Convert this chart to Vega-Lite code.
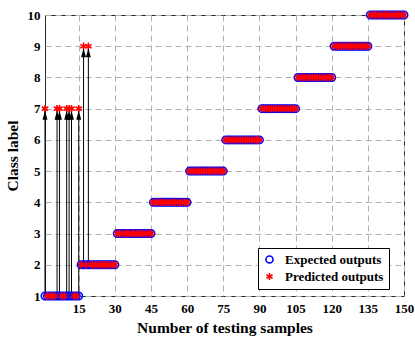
{
  "$schema": "https://vega.github.io/schema/vega-lite/v6.json",
  "width": 359,
  "height": 281,
  "autosize": "none",
  "padding": {"left": 45, "top": 15, "right": 11, "bottom": 45},
  "background": "white",
  "config": {
    "view": {"stroke": "#262626", "strokeWidth": 1},
    "axis": {
      "labelFont": "Liberation Serif", "labelFontWeight": "bold", "labelFontSize": 13, "labelColor": "#000",
      "titleFont": "Liberation Serif", "titleFontWeight": "bold", "titleFontSize": 15.5, "titleColor": "#000",
      "domain": false, "ticks": false, "labelOverlap": false, "labelFlush": false,
      "grid": true, "gridColor": "#b0b0b0", "gridDash": [6, 4], "gridWidth": 1
    },
    "legend": {
      "labelFont": "Liberation Serif", "labelFontWeight": "bold", "labelFontSize": 13, "labelColor": "#000"
    }
  },
  "data": {"values": [
    {"s":1,"e":1,"p":7},{"s":2,"e":1,"p":1},{"s":3,"e":1,"p":1},{"s":4,"e":1,"p":1},{"s":5,"e":1,"p":1},
    {"s":6,"e":1,"p":7},{"s":7,"e":1,"p":7},{"s":8,"e":1,"p":1},{"s":9,"e":1,"p":1},{"s":10,"e":1,"p":7},
    {"s":11,"e":1,"p":7},{"s":12,"e":1,"p":7},{"s":13,"e":1,"p":1},{"s":14,"e":1,"p":1},{"s":15,"e":1,"p":7},
    {"s":16,"e":2,"p":2},{"s":17,"e":2,"p":9},{"s":18,"e":2,"p":2},{"s":19,"e":2,"p":9},{"s":20,"e":2,"p":2},
    {"s":21,"e":2,"p":2},{"s":22,"e":2,"p":2},{"s":23,"e":2,"p":2},{"s":24,"e":2,"p":2},{"s":25,"e":2,"p":2},
    {"s":26,"e":2,"p":2},{"s":27,"e":2,"p":2},{"s":28,"e":2,"p":2},{"s":29,"e":2,"p":2},{"s":30,"e":2,"p":2},
    {"s":31,"e":3,"p":3},{"s":32,"e":3,"p":3},{"s":33,"e":3,"p":3},{"s":34,"e":3,"p":3},{"s":35,"e":3,"p":3},
    {"s":36,"e":3,"p":3},{"s":37,"e":3,"p":3},{"s":38,"e":3,"p":3},{"s":39,"e":3,"p":3},{"s":40,"e":3,"p":3},
    {"s":41,"e":3,"p":3},{"s":42,"e":3,"p":3},{"s":43,"e":3,"p":3},{"s":44,"e":3,"p":3},{"s":45,"e":3,"p":3},
    {"s":46,"e":4,"p":4},{"s":47,"e":4,"p":4},{"s":48,"e":4,"p":4},{"s":49,"e":4,"p":4},{"s":50,"e":4,"p":4},
    {"s":51,"e":4,"p":4},{"s":52,"e":4,"p":4},{"s":53,"e":4,"p":4},{"s":54,"e":4,"p":4},{"s":55,"e":4,"p":4},
    {"s":56,"e":4,"p":4},{"s":57,"e":4,"p":4},{"s":58,"e":4,"p":4},{"s":59,"e":4,"p":4},{"s":60,"e":4,"p":4},
    {"s":61,"e":5,"p":5},{"s":62,"e":5,"p":5},{"s":63,"e":5,"p":5},{"s":64,"e":5,"p":5},{"s":65,"e":5,"p":5},
    {"s":66,"e":5,"p":5},{"s":67,"e":5,"p":5},{"s":68,"e":5,"p":5},{"s":69,"e":5,"p":5},{"s":70,"e":5,"p":5},
    {"s":71,"e":5,"p":5},{"s":72,"e":5,"p":5},{"s":73,"e":5,"p":5},{"s":74,"e":5,"p":5},{"s":75,"e":5,"p":5},
    {"s":76,"e":6,"p":6},{"s":77,"e":6,"p":6},{"s":78,"e":6,"p":6},{"s":79,"e":6,"p":6},{"s":80,"e":6,"p":6},
    {"s":81,"e":6,"p":6},{"s":82,"e":6,"p":6},{"s":83,"e":6,"p":6},{"s":84,"e":6,"p":6},{"s":85,"e":6,"p":6},
    {"s":86,"e":6,"p":6},{"s":87,"e":6,"p":6},{"s":88,"e":6,"p":6},{"s":89,"e":6,"p":6},{"s":90,"e":6,"p":6},
    {"s":91,"e":7,"p":7},{"s":92,"e":7,"p":7},{"s":93,"e":7,"p":7},{"s":94,"e":7,"p":7},{"s":95,"e":7,"p":7},
    {"s":96,"e":7,"p":7},{"s":97,"e":7,"p":7},{"s":98,"e":7,"p":7},{"s":99,"e":7,"p":7},{"s":100,"e":7,"p":7},
    {"s":101,"e":7,"p":7},{"s":102,"e":7,"p":7},{"s":103,"e":7,"p":7},{"s":104,"e":7,"p":7},{"s":105,"e":7,"p":7},
    {"s":106,"e":8,"p":8},{"s":107,"e":8,"p":8},{"s":108,"e":8,"p":8},{"s":109,"e":8,"p":8},{"s":110,"e":8,"p":8},
    {"s":111,"e":8,"p":8},{"s":112,"e":8,"p":8},{"s":113,"e":8,"p":8},{"s":114,"e":8,"p":8},{"s":115,"e":8,"p":8},
    {"s":116,"e":8,"p":8},{"s":117,"e":8,"p":8},{"s":118,"e":8,"p":8},{"s":119,"e":8,"p":8},{"s":120,"e":8,"p":8},
    {"s":121,"e":9,"p":9},{"s":122,"e":9,"p":9},{"s":123,"e":9,"p":9},{"s":124,"e":9,"p":9},{"s":125,"e":9,"p":9},
    {"s":126,"e":9,"p":9},{"s":127,"e":9,"p":9},{"s":128,"e":9,"p":9},{"s":129,"e":9,"p":9},{"s":130,"e":9,"p":9},
    {"s":131,"e":9,"p":9},{"s":132,"e":9,"p":9},{"s":133,"e":9,"p":9},{"s":134,"e":9,"p":9},{"s":135,"e":9,"p":9},
    {"s":136,"e":10,"p":10},{"s":137,"e":10,"p":10},{"s":138,"e":10,"p":10},{"s":139,"e":10,"p":10},{"s":140,"e":10,"p":10},
    {"s":141,"e":10,"p":10},{"s":142,"e":10,"p":10},{"s":143,"e":10,"p":10},{"s":144,"e":10,"p":10},{"s":145,"e":10,"p":10},
    {"s":146,"e":10,"p":10},{"s":147,"e":10,"p":10},{"s":148,"e":10,"p":10},{"s":149,"e":10,"p":10},{"s":150,"e":10,"p":10}
  ]},
  "encoding": {
    "x": {"field": "s", "type": "quantitative",
      "scale": {"domain": [1, 150], "nice": false, "zero": false},
      "axis": {"values": [15, 30, 45, 60, 75, 90, 105, 120, 135, 150], "tickCount": 12, "title": "Number of testing samples", "labelPadding": 6, "titlePadding": 5}}
  },
  "layer": [
    {
      "transform": [{"filter": "datum.e != datum.p"}],
      "mark": {"type": "rule", "color": "#000", "strokeWidth": 1},
      "encoding": {
        "y": {"field": "e", "type": "quantitative",
          "scale": {"domain": [1, 10], "nice": false, "zero": false},
          "axis": {"values": [1,2,3,4,5,6,7,8,9,10], "tickCount": 12, "title": "Class label", "labelPadding": 5, "titlePadding": 7}},
        "y2": {"field": "p"}
      }
    },
    {
      "transform": [
        {"fold": ["e", "p"], "as": ["series", "val"]}
      ],
      "mark": {"type": "point", "filled": false, "strokeWidth": 1.6, "opacity": 1},
      "encoding": {
        "y": {"field": "val", "type": "quantitative"},
        "color": {"field": "series", "type": "nominal",
          "scale": {"domain": ["e", "p"], "range": ["#0000ff", "#ff0000"]},
          "legend": {"title": null, "orient": "none", "legendX": 213, "legendY": 233,
            "labelExpr": "datum.label == 'e' ? 'Expected outputs' : 'Predicted outputs'",
            "strokeColor": "#000", "fillColor": "white", "padding": 5, "rowPadding": 2,
            "symbolStrokeWidth": 1.6, "symbolSize": 50, "labelOffset": 9}},
        "shape": {"field": "series", "type": "nominal",
          "scale": {"domain": ["e", "p"], "range": ["circle", "M0,-1L0,1M-0.87,-0.5L0.87,0.5M-0.87,0.5L0.87,-0.5"]}},
        "size": {"value": 55},
        "order": {"field": "series", "sort": "ascending"}
      }
    },
    {
      "transform": [{"filter": "datum.e != datum.p"}],
      "mark": {"type": "point", "filled": true, "color": "#000", "opacity": 1, "size": 81, "yOffset": 6.5,
        "shape": "M0,-1L0.55,1L-0.55,1Z"},
      "encoding": {
        "y": {"field": "p", "type": "quantitative"}
      }
    }
  ]
}
